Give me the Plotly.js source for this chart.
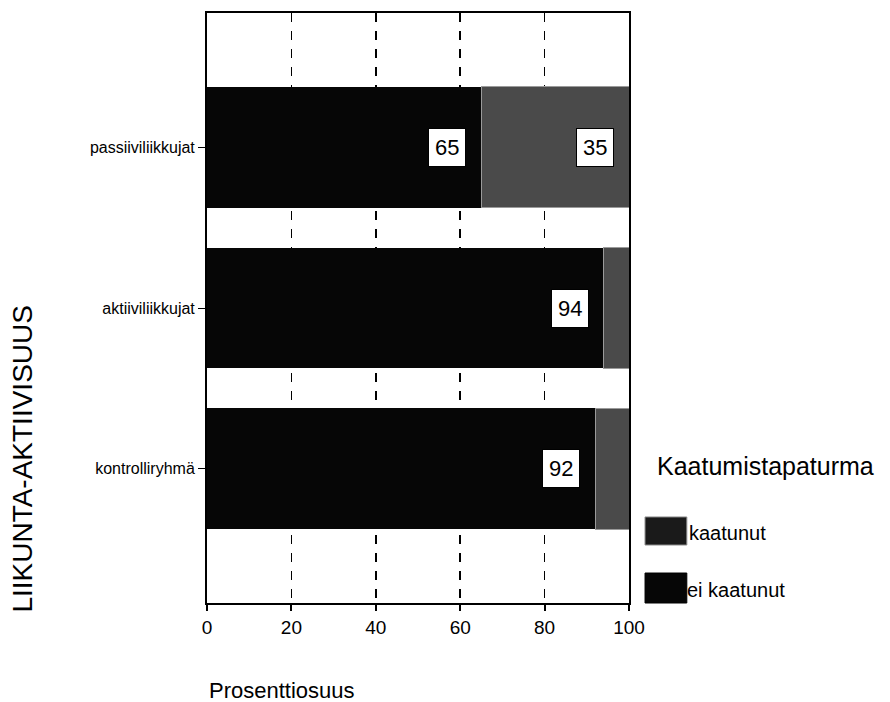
<!DOCTYPE html>
<html>
<head>
<meta charset="utf-8">
<script src="https://cdn.plot.ly/plotly-3.0.1.min.js"></script>
<style>html,body{margin:0;padding:0;background:#fff;}#chart{width:890px;height:702px;}</style>
</head>
<body>
<div id="chart"></div>
<script>
const categories = ["kontrolliryhmä", "aktiiviliikkujat", "passiiviliikkujat"];
const eiKaatunut = [92, 94, 65];
const kaatunut = [8, 6, 35];
const labelEi = ["92", "94", "65"];
const labelKaatunut = [null, null, "35"];
const xTicks = [0, 20, 40, 60, 80, 100];
const seriesNames = ["ei kaatunut", "kaatunut"];

const FONT = "Liberation Sans, Arial, sans-serif";
const darkColor = "#060606";
const grayColor = "#4a4a4a";

const traces = [
  {type: "bar", orientation: "h", y: categories, x: eiKaatunut, name: seriesNames[0],
   marker: {color: darkColor, line: {width: 0}}, width: 0.75, showlegend: false, hoverinfo: "skip"},
  {type: "bar", orientation: "h", y: categories, x: kaatunut, name: seriesNames[1],
   marker: {color: grayColor, line: {width: 1, color: "#9a9a9a"}}, width: 0.75, showlegend: false, hoverinfo: "skip"}
];

const annotations = [];
function box(x, y, t) {
  annotations.push({x: x, y: y, xref: "x", yref: "y", text: t, showarrow: false,
    xanchor: "right", yanchor: "middle", xshift: -15,
    bgcolor: "#ffffff", bordercolor: "#000000", borderwidth: 1, borderpad: 6,
    font: {family: FONT, size: 22, color: "#000"}});
}
categories.forEach((c, i) => {
  if (labelEi[i]) box(eiKaatunut[i], c, labelEi[i]);
  if (labelKaatunut[i]) box(eiKaatunut[i] + kaatunut[i], c, labelKaatunut[i]);
});

// axis titles (placed as in reference)
annotations.push({xref: "paper", yref: "paper", x: 0.0, y: -0.149, xanchor: "left", yanchor: "middle",
  text: "Prosenttiosuus", showarrow: false, font: {family: FONT, size: 22, color: "#000"}});
annotations.push({xref: "paper", yref: "paper", x: -0.438, y: 0.245, xanchor: "center", yanchor: "middle",
  textangle: -90, text: "LIIKUNTA-AKTIIVISUUS", showarrow: false, font: {family: FONT, size: 28, color: "#000"}});
// legend title and items
annotations.push({xref: "paper", yref: "paper", x: 1.0616, y: 0.232, xanchor: "left", yanchor: "middle",
  text: "Kaatumistapaturma", showarrow: false, font: {family: FONT, size: 25, color: "#000"}});
annotations.push({xref: "paper", yref: "paper", x: 1.137, y: 0.1186, xanchor: "left", yanchor: "middle",
  text: seriesNames[1], showarrow: false, font: {family: FONT, size: 20, color: "#000"}});
annotations.push({xref: "paper", yref: "paper", x: 1.132, y: 0.022, xanchor: "left", yanchor: "middle",
  text: seriesNames[0], showarrow: false, font: {family: FONT, size: 20, color: "#000"}});

const shapes = [
  {type: "rect", xref: "paper", yref: "paper", x0: 1.038, x1: 1.137, y0: 0.0983, y1: 0.1458,
   fillcolor: "#1a1a1a", line: {color: "#8a8a8a", width: 1}},
  {type: "rect", xref: "paper", yref: "paper", x0: 1.038, x1: 1.137, y0: 0.0, y1: 0.0508,
   fillcolor: darkColor, line: {color: "#000", width: 1}}
];

const layout = {
  width: 890, height: 702,
  margin: {l: 207, r: 261, t: 13, b: 99},
  paper_bgcolor: "#fff", plot_bgcolor: "#fff",
  barmode: "stack", bargap: 0.25,
  font: {family: FONT, size: 16, color: "#000"},
  xaxis: {range: [0, 100], tickvals: xTicks, ticktext: xTicks.map(String),
    ticks: "outside", ticklen: 6, tickwidth: 2, tickcolor: "#000",
    showgrid: true, gridcolor: "#000", gridwidth: 1.5, griddash: "dash",
    showline: true, linecolor: "#000", linewidth: 2, mirror: true,
    zeroline: false, tickfont: {family: FONT, size: 19, color: "#000"}, fixedrange: true},
  yaxis: {range: [-0.835, 2.835], ticks: "outside", ticklen: 7, tickwidth: 1, tickcolor: "#000",
    showline: true, linecolor: "#000", linewidth: 2, mirror: true, showgrid: false, zeroline: false,
    tickfont: {family: FONT, size: 16, color: "#000"}, fixedrange: true},
  annotations: annotations,
  shapes: shapes,
  showlegend: false
};

Plotly.newPlot("chart", traces, layout, {displayModeBar: false, staticPlot: true});
</script>
</body>
</html>
